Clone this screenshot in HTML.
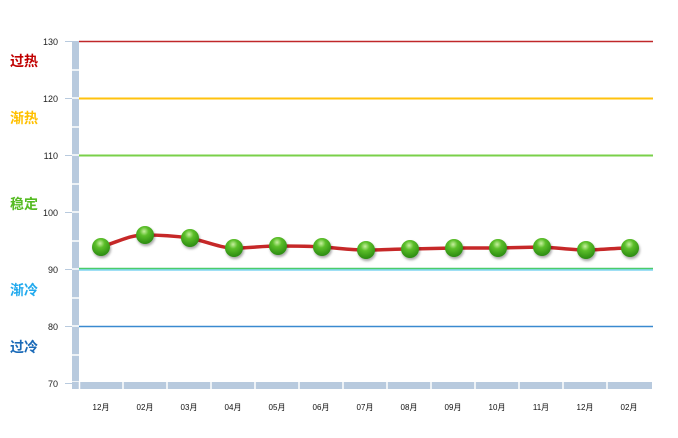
<!DOCTYPE html>
<html><head><meta charset="utf-8"><style>body{margin:0;background:#fff}</style></head><body>
<svg width="678" height="433" xmlns="http://www.w3.org/2000/svg" font-family="Liberation Sans, sans-serif">
<defs>
<radialGradient id="g" cx="0.45" cy="0.3" r="0.7">
<stop offset="0" stop-color="#c8f0a0"/><stop offset="0.35" stop-color="#5cbf2a"/><stop offset="1" stop-color="#2a8a10"/>
</radialGradient>
<filter id="s" x="-50%" y="-50%" width="200%" height="200%"><feDropShadow dx="1" dy="2" stdDeviation="1.2" flood-color="#000" flood-opacity="0.35"/></filter>
</defs>
<!-- left axis bar -->
<rect x="72" y="41" width="7" height="348" fill="#b8cade"/>
<g stroke="#fff" stroke-width="1.5">
<line x1="72" y1="70" x2="79" y2="70"/><line x1="72" y1="98" x2="79" y2="98"/><line x1="72" y1="127" x2="79" y2="127"/><line x1="72" y1="155" x2="79" y2="155"/><line x1="72" y1="184" x2="79" y2="184"/><line x1="72" y1="212" x2="79" y2="212"/><line x1="72" y1="241" x2="79" y2="241"/><line x1="72" y1="269" x2="79" y2="269"/><line x1="72" y1="298" x2="79" y2="298"/><line x1="72" y1="326" x2="79" y2="326"/><line x1="72" y1="355" x2="79" y2="355"/><line x1="72" y1="382" x2="79" y2="382"/>
</g>
<!-- bottom bar -->
<rect x="72" y="382" width="580" height="7" fill="#b8cade"/>
<g stroke="#fff" stroke-width="1.5">
<line x1="79.5" y1="382" x2="79.5" y2="389"/><line x1="123" y1="382" x2="123" y2="389"/><line x1="167" y1="382" x2="167" y2="389"/><line x1="211" y1="382" x2="211" y2="389"/><line x1="255" y1="382" x2="255" y2="389"/><line x1="299" y1="382" x2="299" y2="389"/><line x1="343" y1="382" x2="343" y2="389"/><line x1="387" y1="382" x2="387" y2="389"/><line x1="431" y1="382" x2="431" y2="389"/><line x1="475" y1="382" x2="475" y2="389"/><line x1="519" y1="382" x2="519" y2="389"/><line x1="563" y1="382" x2="563" y2="389"/><line x1="607" y1="382" x2="607" y2="389"/>
</g>
<!-- ticks -->
<g stroke="#b8cade" stroke-width="1">
<line x1="65" y1="41.5" x2="72" y2="41.5"/><line x1="65" y1="98.5" x2="72" y2="98.5"/><line x1="65" y1="155.5" x2="72" y2="155.5"/><line x1="65" y1="212.5" x2="72" y2="212.5"/><line x1="65" y1="269.5" x2="72" y2="269.5"/><line x1="65" y1="326.5" x2="72" y2="326.5"/><line x1="65" y1="383.5" x2="72" y2="383.5"/>
</g>
<g font-size="9" fill="#222" text-anchor="end">
<text x="58" y="45">130</text><text x="58" y="102">120</text><text x="58" y="159">110</text><text x="58" y="216">100</text><text x="58" y="273">90</text><text x="58" y="330">80</text><text x="58" y="387">70</text>
</g>
<!-- threshold lines -->
<line x1="79" y1="41.5" x2="653" y2="41.5" stroke="#c0282a" stroke-width="1.5"/>
<line x1="79" y1="98.5" x2="653" y2="98.5" stroke="#ffc20e" stroke-width="2"/>
<line x1="79" y1="155.5" x2="653" y2="155.5" stroke="#7ad04a" stroke-width="2"/>
<line x1="79" y1="268.5" x2="653" y2="268.5" stroke="#4ccc6a" stroke-width="1.5"/>
<line x1="79" y1="270" x2="653" y2="270" stroke="#66ccee" stroke-width="1.2"/>
<line x1="79" y1="326.5" x2="653" y2="326.5" stroke="#3a8ad0" stroke-width="1.5"/>
<g font-size="14" font-weight="bold" font-family="Liberation Sans, Noto Sans CJK SC, sans-serif">
<text x="10" y="66" fill="#c00000">过热</text>
<text x="10" y="123" fill="#ffc000">渐热</text>
<text x="10" y="209" fill="#55bb22">稳定</text>
<text x="10" y="295" fill="#22aaee">渐冷</text>
<text x="10" y="352" fill="#1a6ab8">过冷</text>
</g>
<!-- series -->
<path d="M101,247 C120,241 130,235 145,235 C160,235 175,236 190,238 C205,241 220,248 234,248 C250,248 262,246 278,246 C294,246 308,246 322,247 C338,248 350,250 366,250 C382,250 395,249 410,249 L454,248 L498,248 L542,247 C560,248 572,250 586,250 C600,250 615,248 630,248" fill="none" stroke="#c62828" stroke-width="3.5"/>
<g fill="url(#g)" filter="url(#s)">
<circle cx="101" cy="247" r="9"/><circle cx="145" cy="235" r="9"/><circle cx="190" cy="238" r="9"/><circle cx="234" cy="248" r="9"/><circle cx="278" cy="246" r="9"/><circle cx="322" cy="247" r="9"/><circle cx="366" cy="250" r="9"/><circle cx="410" cy="249" r="9"/><circle cx="454" cy="248" r="9"/><circle cx="498" cy="248" r="9"/><circle cx="542" cy="247" r="9"/><circle cx="586" cy="250" r="9"/><circle cx="630" cy="248" r="9"/>
</g>
<g font-size="8" fill="#111" text-anchor="middle" font-family="Liberation Sans, Noto Sans CJK SC, sans-serif">
<text x="101" y="410">12月</text><text x="145" y="410">02月</text><text x="189" y="410">03月</text><text x="233" y="410">04月</text><text x="277" y="410">05月</text><text x="321" y="410">06月</text><text x="365" y="410">07月</text><text x="409" y="410">08月</text><text x="453" y="410">09月</text><text x="497" y="410">10月</text><text x="541" y="410">11月</text><text x="585" y="410">12月</text><text x="629" y="410">02月</text>
</g>
</svg>
</body></html>
